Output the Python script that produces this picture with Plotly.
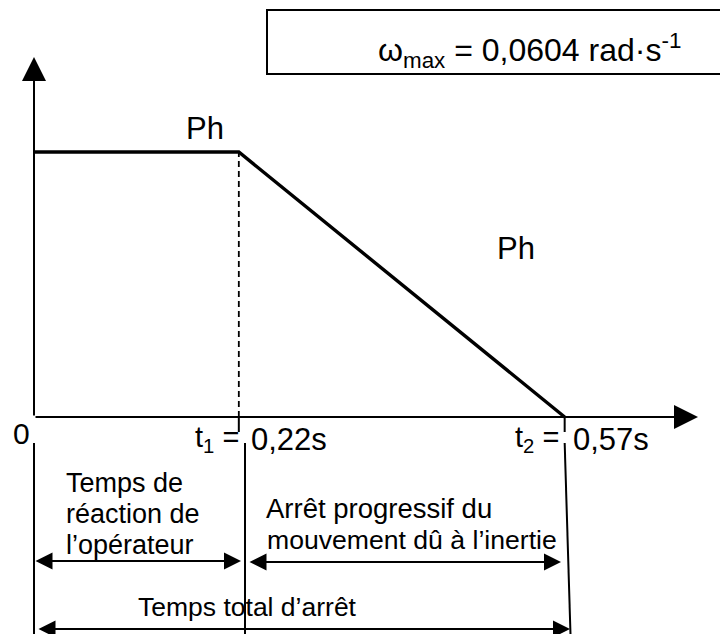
import plotly.graph_objects as go

# ---- data ----
t_values = [0.0, 0.22, 0.57]          # s : start, t1, t2
omega_max = 0.0604                     # rad/s
omega_values = [omega_max, omega_max, 0.0]
t_labels = ["0", "0,22s", "0,57s"]
t_names = ["t<sub>1</sub> =", "t<sub>2</sub> ="]
phase_labels = ["Ph", "Ph"]
span_reaction = ["Temps de", "réaction de", "l’opérateur"]
span_inertia = ["Arrêt progressif du", "mouvement dû à l’inertie"]
span_total = "Temps total d’arrêt"
omega_text = "ω<sub>max</sub> = 0,0604 rad·s<sup>-1</sup>"

# ---- layout geometry (pixel helpers, reference-pixel based) ----
PAGE_OFF = 8                          # default body margin of the html page
W, H = 728 - PAGE_OFF, 634 - PAGE_OFF
X0, KX = 34, 931.0                    # origin pixel, px per second
Y0, KY = 417, 265.0 / omega_max       # origin pixel, px per rad/s

def px(x):
    return (x - X0) / KX

def py(y):
    return (Y0 - y) / KY

FONT = "Liberation Sans, Arial, sans-serif"
t0, t1, t2 = t_values

fig = go.Figure()

# dashed line at t1
fig.add_trace(go.Scatter(x=[t1, t1], y=[0, omega_max], mode="lines",
                         line=dict(color="black", width=1.8, dash="6px,4px"),
                         hoverinfo="skip", showlegend=False))
# omega(t)
fig.add_trace(go.Scatter(x=t_values, y=omega_values, mode="lines",
                         line=dict(color="black", width=3.4),
                         showlegend=False))

shapes = []
line_k = dict(color="black", width=2)
# ticks below x axis at t1, t2
for tv in (t1, t2):
    shapes.append(dict(type="line", x0=tv, x1=tv, y0=0, y1=py(432), line=line_k))
# vertical boundaries below
shapes.append(dict(type="line", x0=t0, x1=t0, y0=py(443), y1=py(640), line=line_k))
shapes.append(dict(type="line", x0=px(245), x1=px(245), y0=py(443), y1=py(640), line=line_k))
shapes.append(dict(type="line", x0=t2, x1=t2 + 6 / KX, y0=py(443), y1=py(640), line=line_k))
# box
shapes.append(dict(type="rect", x0=px(267), x1=px(740), y0=py(10), y1=py(74),
                   line=dict(color="black", width=2), fillcolor="rgba(0,0,0,0)"))

annotations = []

def arrow(xa, ya, xb, yb, both=False, w=2, size=1.7):
    annotations.append(dict(x=xb, y=yb, ax=xa, ay=ya, xref="x", yref="y",
                            axref="x", ayref="y", text="", showarrow=True,
                            arrowhead=2, startarrowhead=2, arrowsize=size,
                            startarrowsize=size, arrowwidth=w, arrowcolor="black",
                            arrowside="end+start" if both else "end",
                            standoff=0, startstandoff=0))

# axes
arrow(t0, 0, px(698), 0, size=2.4)
arrow(t0, 0, t0, py(57), size=2.4)
# span arrows
arrow(t0, py(561), px(241), py(561), both=True)
arrow(px(248), py(562), px(561), py(562), both=True)
arrow(px(37), py(629), px(570), py(629), both=True)

def text(x, y, s, size=25, xanchor="center", align="center"):
    annotations.append(dict(x=x, y=y, xref="x", yref="y", text=s, showarrow=False,
                            xanchor=xanchor, yanchor="middle", align=align,
                            font=dict(family=FONT, size=size, color="black")))

text(px(21), py(433), t_labels[0], size=30)
text(px(241), py(439), t_names[0], size=29, xanchor="right")
text(px(249), py(439), t_labels[1], size=31, xanchor="left")
text(px(561), py(439), t_names[1], size=29, xanchor="right")
text(px(571), py(439), t_labels[2], size=31, xanchor="left")

text(px(205), py(128), phase_labels[0], size=31)
text(px(516), py(248), phase_labels[1], size=31)

for i, s in enumerate(span_reaction):
    text(px(64), py(483 + 31 * i), s, size=27, xanchor="left", align="left")
text(px(264), py(508), span_inertia[0], size=27.5, xanchor="left", align="left")
text(px(265), py(540), span_inertia[1], size=26.6, xanchor="left", align="left")
text(px(247), py(607), span_total, size=26.5)

text(px(529), py(50), omega_text, size=32)

fig.update_layout(
    width=W, height=H, margin=dict(l=0, r=0, t=0, b=0),
    paper_bgcolor="white", plot_bgcolor="white",
    xaxis=dict(range=[px(PAGE_OFF), px(728)], visible=False, fixedrange=True),
    yaxis=dict(range=[py(634), py(PAGE_OFF)], visible=False, fixedrange=True),
    shapes=shapes, annotations=annotations, showlegend=False,
)

fig.write_html("out.html")
